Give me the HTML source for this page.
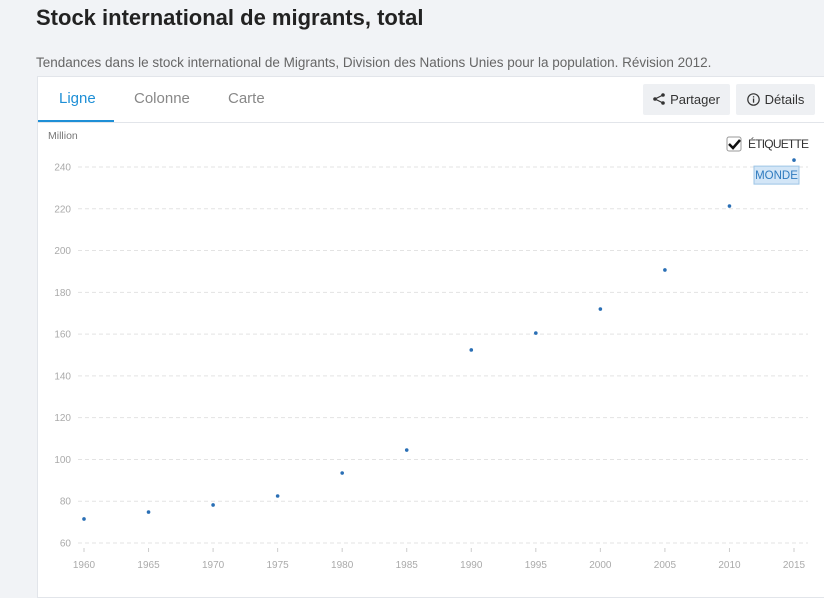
<!DOCTYPE html>
<html><head><meta charset="utf-8"><style>
body{margin:0;width:824px;height:590px;background:#f1f3f6;font-family:"Liberation Sans",sans-serif;overflow:hidden;position:relative}
h1{position:absolute;left:36px;top:5px;margin:0;font-size:22px;font-weight:bold;color:#222}
.sub{position:absolute;left:36px;top:55px;font-size:13.5px;color:#666}
.card{position:absolute;left:37px;top:76px;width:800px;height:520px;background:#fff;border:1px solid #e2e5ea}
.tabs{position:absolute;left:0;top:0;width:800px;height:45px;border-bottom:1px solid #e2e5ea}
.tab{position:absolute;top:13px;font-size:15px;color:#888}
.btn{position:absolute;top:7px;height:31px;background:#eef0f3;border-radius:2px;font-size:13px;color:#333;line-height:31px;padding:0 8px;box-sizing:border-box;white-space:nowrap;text-align:center}
.btn svg{display:inline-block}
</style></head><body>
<h1>Stock international de migrants, total</h1>
<div class="sub">Tendances dans le stock international de Migrants, Division des Nations Unies pour la population. Révision 2012.</div>
<div class="card">
<div class="tabs">
<div class="tab" style="left:21px;color:#1e8fd6">Ligne</div>
<div style="position:absolute;left:0;top:43px;width:76px;height:2px;background:#1e8fd6"></div>
<div class="tab" style="left:96px">Colonne</div>
<div class="tab" style="left:190px">Carte</div>
<div class="btn" style="left:605px;width:87px"><svg width="12" height="12" style="vertical-align:-1px;margin-right:5px"><circle cx="10" cy="2" r="1.8" fill="#333"/><circle cx="2" cy="6" r="1.8" fill="#333"/><circle cx="10" cy="10" r="1.8" fill="#333"/><path d="M10 2L2 6L10 10" stroke="#333" fill="none" stroke-width="1.2"/></svg>Partager</div>
<div class="btn" style="left:698px;width:79px"><svg width="13" height="13" style="vertical-align:-2px;margin-right:5px"><circle cx="6.5" cy="6.5" r="5.7" stroke="#333" fill="none" stroke-width="1.2"/><rect x="5.9" y="5.5" width="1.3" height="4.2" fill="#333"/><rect x="5.9" y="3.2" width="1.3" height="1.3" fill="#333"/></svg>Détails</div>
</div>
</div>
<svg id="chart" width="824" height="590" style="position:absolute;left:0;top:0"></svg>
<script>
const years=[1960,1965,1970,1975,1980,1985,1990,1995,2000,2005,2010,2015];
const values=[71.5,74.8,78.2,82.5,93.5,104.5,152.4,160.5,172,190.7,221.3,243.3];
const yTicks=[60,80,100,120,140,160,180,200,220,240];
const svg=document.getElementById('chart');
const NS='http://www.w3.org/2000/svg';
const xs=y=>84+(y-1960)*(710/55);
const ys=v=>543-(v-60)*(376/180);
function mk(t,a,txt){const e=document.createElementNS(NS,t);for(const k in a)e.setAttribute(k,a[k]);if(txt!=null)e.textContent=txt;svg.appendChild(e);return e;}
let u=mk('text',{x:48,y:139,'font-size':10.5,fill:'#777'},'Million');


yTicks.forEach(t=>{
 const l=mk('line',{x1:78,x2:808,y1:ys(t),y2:ys(t),stroke:'#e3e3e3','stroke-dasharray':'4,3'});
 
 
 const tx=mk('text',{x:71,y:ys(t)+3.5,'font-size':10,fill:'#aaa','text-anchor':'end'},t);
 
 
});
years.forEach(y=>{
 const l=mk('line',{x1:xs(y),x2:xs(y),y1:548,y2:552,stroke:'#ccc'});
 
 
 const tx=mk('text',{x:xs(y),y:568,'font-size':10,fill:'#aaa','text-anchor':'middle'},y);
 
 
});
values.forEach((v,i)=>{
 const c=mk('circle',{cx:xs(years[i]),cy:ys(v),r:1.8,fill:'#2a6fb5'});
 
 
});
const lx=xs(years[years.length-1]),ly=ys(values[values.length-1]);
const lb=mk('rect',{x:lx-40,y:ly+6,width:45,height:18,fill:'#d3e6f7',stroke:'#9cc4e6'});


const lt=mk('text',{x:lx-17.5,y:ly+19,'font-size':11.5,fill:'#2f7bbf','text-anchor':'middle'},'MONDE');


const cb=mk('rect',{x:727,y:137,width:14,height:14,rx:2,fill:'#fff',stroke:'#999'});


const ck=mk('path',{d:'M729 144l4 4l7-8',stroke:'#111','stroke-width':2.5,fill:'none'});


const ct=mk('text',{x:748,y:148,'font-size':12,fill:'#333',textLength:61},'ÉTIQUETTE');


</script>
</body></html>
